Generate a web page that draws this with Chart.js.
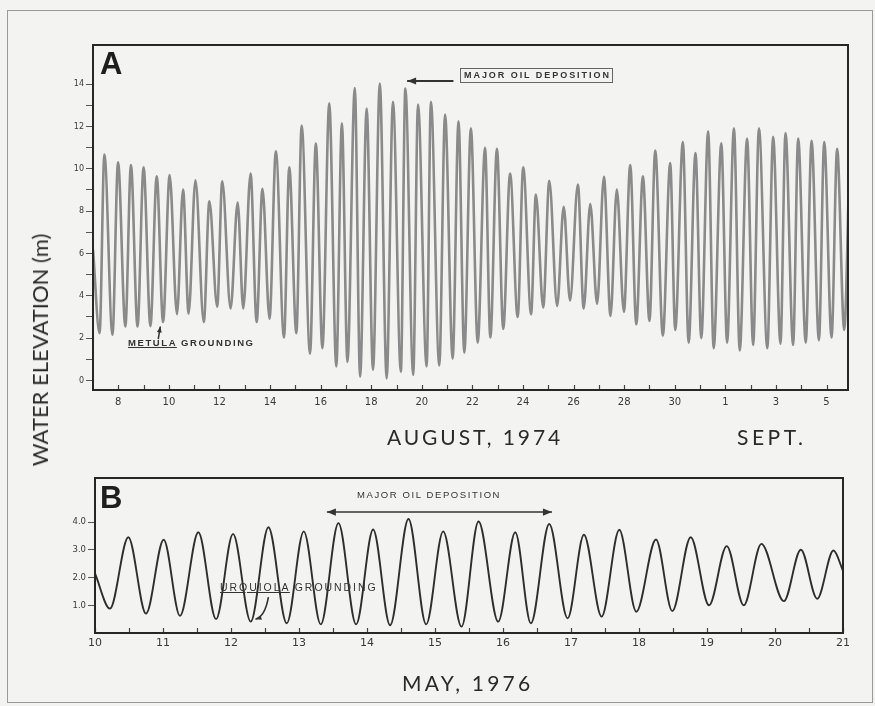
<!DOCTYPE html>
<html><head><meta charset="utf-8">
<script src="https://cdn.jsdelivr.net/npm/chart.js@4.4.0/dist/chart.umd.min.js"></script>
<style>
html,body{margin:0;padding:0;background:#f3f3f1;}
#wrap{position:relative;width:875px;height:706px;overflow:hidden;color:#2a2a2a;font-family:"Lato","DejaVu Sans",sans-serif;}
canvas{position:absolute;left:0;}
.t{position:absolute;white-space:nowrap;line-height:1;}
.big{font-family:"Liberation Sans",Arial,sans-serif;font-weight:bold;font-size:31px;color:#1e1e1e;}
.ttl{font-size:21px;letter-spacing:2.5px;}
.sm{font-family:"Liberation Sans",Arial,sans-serif;color:#333;}
</style></head><body>
<div id="wrap">
  <div style="position:absolute;left:7px;top:10px;width:864px;height:691px;border:1px solid #9a9a9a;"></div>
  <canvas id="cA" width="875" height="460" style="top:0"></canvas>
  <canvas id="cB" width="875" height="246" style="top:460px"></canvas>

  <div class="t big" style="left:100px;top:48px;">A</div>
  <div class="t big" style="left:100px;top:482px;">B</div>

  <div class="t ttl" style="left:40px;top:350px;font-size:22px;letter-spacing:0px;transform:translate(-50%,-50%) rotate(-90deg);">WATER ELEVATION (m)</div>
  <div class="t ttl" style="left:387px;top:426px;letter-spacing:2.9px;">AUGUST, 1974</div>
  <div class="t ttl" style="left:737px;top:426px;letter-spacing:3.5px;">SEPT.</div>
  <div class="t ttl" style="left:402px;top:672px;letter-spacing:3.2px;">MAY, 1976</div>

  <div class="t sm" style="left:460px;top:68px;font-size:9px;font-weight:bold;letter-spacing:1.95px;border:1px solid #666;padding:2px 1px 2px 3px;">MAJOR OIL DEPOSITION</div>
  <div class="t sm" style="left:128px;top:338px;font-size:9.5px;font-weight:bold;letter-spacing:1.6px;"><span style="text-decoration:underline;">METULA</span> GROUNDING</div>
  <div class="t sm" style="left:357px;top:490px;font-size:9.5px;letter-spacing:1.6px;">MAJOR OIL DEPOSITION</div>
  <div class="t sm" style="left:220px;top:582px;font-size:10.5px;letter-spacing:1.95px;"><span style="text-decoration:underline;">URQUIOLA</span> GROUNDING</div>
</div>
<script>
// ---------- Panel A: August 1974 (day of August; 32 = 1 Sept) ----------
const aHighDays = [7.45,7.99,8.50,9.00,9.52,10.03,10.56,11.05,11.60,12.11,12.72,13.23,13.70,14.23,14.76,15.25,15.81,16.34,16.84,17.35,17.82,18.34,18.86,19.35,19.85,20.36,20.92,21.45,21.94,22.50,22.97,23.49,24.01,24.51,25.04,25.61,26.17,26.66,27.20,27.71,28.24,28.74,29.23,29.82,30.32,30.82,31.32,31.84,32.34,32.86,33.33,33.89,34.38,34.88,35.41,35.91,36.42,36.92];
const aHighM = [10.67,10.31,10.18,10.07,9.65,9.70,9.02,9.46,8.46,9.41,8.41,9.78,9.06,10.83,10.07,12.04,11.20,13.09,12.15,13.82,12.85,14.03,13.17,13.79,13.04,13.17,12.56,12.24,11.91,10.99,10.94,9.78,10.07,8.78,9.43,8.20,9.26,8.33,9.62,9.02,10.18,9.65,10.86,10.27,11.27,10.75,11.77,11.20,11.91,11.43,11.91,11.51,11.69,11.43,11.32,11.27,10.94,11.07];
const aLowDays = [7.26,7.77,8.28,8.76,9.27,9.77,10.32,10.78,11.38,11.91,12.44,12.94,13.47,13.98,14.55,15.04,15.58,16.07,16.62,17.06,17.56,18.07,18.61,19.17,19.66,20.19,20.69,21.22,21.68,22.21,22.71,23.22,23.79,24.32,24.80,25.35,25.86,26.40,26.93,27.46,27.99,28.48,29.00,29.53,30.02,30.55,31.05,31.54,32.07,32.57,33.10,33.66,34.18,34.68,35.18,35.70,36.20,36.70];
const aLowM = [2.23,2.16,2.55,2.55,2.57,2.76,3.13,3.16,2.76,3.49,3.40,3.40,2.76,2.92,2.03,2.23,1.26,1.52,0.66,0.87,0.18,0.50,0.10,0.42,0.26,0.66,0.71,1.03,1.31,1.79,2.03,2.44,3.00,3.13,3.45,3.52,3.78,3.40,3.62,3.05,3.24,2.65,2.81,2.12,2.39,1.79,2.00,1.52,1.79,1.42,1.68,1.52,1.74,1.68,1.79,1.90,2.03,2.39];
const aEdgeDays = [7.0];
const aEdgeM = [6.2];
const aTickDays = [8,9,10,11,12,13,14,15,16,17,18,19,20,21,22,23,24,25,26,27,28,29,30,31,32,33,34,35,36];
const aTickLabels = ['8','','10','','12','','14','','16','','18','','20','','22','','24','','26','','28','','30','','1','','3','','5'];
const aLevelTicks = [0,1,2,3,4,5,6,7,8,9,10,11,12,13,14];
const aLevelLabels = ['0','','2','','4','','6','','8','','10','','12','','14'];

// ---------- Panel B: May 1976 ----------
const bHighDays = [10.49,11.01,11.52,12.03,12.55,13.07,13.58,14.09,14.61,15.12,15.64,16.18,16.68,17.19,17.71,18.25,18.76,19.29,19.80,20.38,20.86];
const bHighM = [3.46,3.37,3.64,3.58,3.82,3.67,3.97,3.74,4.12,3.67,4.03,3.64,3.94,3.55,3.73,3.38,3.46,3.14,3.22,3.01,2.98];
const bLowDays = [10.22,10.75,11.25,11.78,12.29,12.82,13.32,13.84,14.34,14.87,15.39,15.93,16.41,16.95,17.45,17.96,18.49,19.03,19.54,20.13,20.62];
const bLowM = [0.88,0.70,0.62,0.50,0.41,0.35,0.31,0.31,0.28,0.31,0.23,0.41,0.35,0.53,0.59,0.77,0.79,1.00,1.00,1.15,1.24];
const bEdgeDays = [10.0, 21.0];
const bEdgeM = [2.15, 2.25];
const bTickDays = [10,10.5,11,11.5,12,12.5,13,13.5,14,14.5,15,15.5,16,16.5,17,17.5,18,18.5,19,19.5,20,20.5,21];
const bTickLabels = ['10','','11','','12','','13','','14','','15','','16','','17','','18','','19','','20','','21'];
const bLevelTicks = [1,2,3,4];
const bLevelLabels = ['1.0','2.0','3.0','4.0'];

function series(groups){
  const pts = [];
  groups.forEach(([d,m]) => d.forEach((x,i) => pts.push({x:x, y:m[i]})));
  return pts.sort((p,q) => p.x - q.x);
}

function drawArrow(ctx, xs, ys, ar){
  const x1 = xs.getPixelForValue(ar.from[0]), y1 = ys.getPixelForValue(ar.from[1]);
  const x2 = xs.getPixelForValue(ar.to[0]), y2 = ys.getPixelForValue(ar.to[1]);
  ctx.strokeStyle = ar.color; ctx.fillStyle = ar.color; ctx.lineWidth = ar.width;
  ctx.beginPath(); ctx.moveTo(x1,y1);
  let cx = x1, cy = y1;
  if (ar.ctrl){ cx = xs.getPixelForValue(ar.ctrl[0]); cy = ys.getPixelForValue(ar.ctrl[1]); ctx.quadraticCurveTo(cx,cy,x2,y2); }
  else { ctx.lineTo(x2,y2); }
  ctx.stroke();
  const head = (tx,ty,fx,fy) => {
    const a = Math.atan2(ty-fy, tx-fx), L = ar.head, W = ar.head*0.4;
    ctx.beginPath(); ctx.moveTo(tx,ty);
    ctx.lineTo(tx - L*Math.cos(a) + W*Math.sin(a), ty - L*Math.sin(a) - W*Math.cos(a));
    ctx.lineTo(tx - L*Math.cos(a) - W*Math.sin(a), ty - L*Math.sin(a) + W*Math.cos(a));
    ctx.closePath(); ctx.fill();
  };
  head(x2,y2,cx,cy);
  if (ar.both) head(x1,y1,x2,y2);
}

const plotBox = {
  id:'plotBox',
  afterDraw(chart, args, o){
    const {ctx, chartArea:a, scales:{x, y}} = chart;
    ctx.save();
    ctx.strokeStyle = o.tickColor; ctx.lineWidth = 1.2;
    x.ticks.forEach(t => { const px = Math.round(x.getPixelForValue(t.value))+0.5;
      ctx.beginPath(); ctx.moveTo(px, a.bottom); ctx.lineTo(px, a.bottom - o.tickLen); ctx.stroke(); });
    ctx.strokeStyle = o.frameColor; ctx.lineWidth = o.frameWidth;
    ctx.strokeRect(a.left, a.top, a.right - a.left, a.bottom - a.top);
    (o.arrows||[]).forEach(ar => drawArrow(ctx, x, y, ar));
    ctx.restore();
  }
};

function makeChart(id, cfg){
  return new Chart(document.getElementById(id), {
    type:'line',
    data:{datasets: cfg.datasets},
    options:{
      responsive:false, animation:false, events:[],
      layout:{padding:cfg.pad},
      elements:{point:{radius:0}},
      plugins:{legend:{display:false}, tooltip:{enabled:false}, plotBox:cfg.box},
      scales:{
        x:{type:'linear', min:cfg.xmin, max:cfg.xmax,
           afterBuildTicks:s => { s.ticks = cfg.xt.map(v => ({value:v})); },
           afterFit:s => { s.height = cfg.xh; },
           grid:{display:false, drawTicks:false}, border:{display:false},
           ticks:{autoSkip:false, maxRotation:0, padding:cfg.xpad, color:'#3a3a3a',
                  font:{family:'"DejaVu Sans", sans-serif', size:cfg.xfs},
                  callback:(v,i) => cfg.xl[i]}},
        y:{type:'linear', min:cfg.ymin, max:cfg.ymax,
           afterBuildTicks:s => { s.ticks = cfg.yt.map(v => ({value:v})); },
           afterFit:s => { s.width = 30; },
           grid:{display:true, drawOnChartArea:false, drawTicks:true, tickLength:7, color:'#555', lineWidth:1},
           border:{display:false},
           ticks:{autoSkip:false, padding:2, color:'#3a3a3a',
                  font:{family:'"DejaVu Sans", sans-serif', size:cfg.yfs},
                  callback:(v,i) => cfg.yl[i]}}
      }
    },
    plugins:[plotBox]
  });
}

const aPts = series([[aHighDays,aHighM],[aLowDays,aLowM],[aEdgeDays,aEdgeM]]);
makeChart('cA', {
  datasets:[
    {data:aPts, borderColor:'#8a8a8a', borderWidth:2.6, cubicInterpolationMode:'monotone', clip:0},
    {data:aPts, borderColor:'#e2e2e0', borderWidth:0.9, cubicInterpolationMode:'monotone', clip:0}
  ],
  pad:{left:63, top:45, right:27, bottom:45},
  xmin:7.0, xmax:36.85, xt:aTickDays, xl:aTickLabels, xh:25, xpad:6, xfs:10,
  ymin:-0.45, ymax:15.85, yt:aLevelTicks, yl:aLevelLabels, yfs:8,
  box:{tickColor:'#444', tickLen:5, frameColor:'#262626', frameWidth:2,
    arrows:[
      {from:[21.25,14.15], to:[19.42,14.15], color:'#333', width:2.2, head:9},
      {from:[9.58,1.95], to:[9.66,2.55], color:'#333', width:1.5, head:6}
    ]}
});

const bPts = series([[bHighDays,bHighM],[bLowDays,bLowM],[bEdgeDays,bEdgeM]]);
makeChart('cB', {
  datasets:[
    {data:bPts, borderColor:'#2e2e2e', borderWidth:1.9, cubicInterpolationMode:'monotone', clip:0}
  ],
  pad:{left:65, top:18, right:32, bottom:53},
  xmin:10, xmax:21, xt:bTickDays, xl:bTickLabels, xh:20, xpad:4, xfs:11,
  ymin:0, ymax:5.6, yt:bLevelTicks, yl:bLevelLabels, yfs:8.5,
  box:{tickColor:'#444', tickLen:5, frameColor:'#262626', frameWidth:2,
    arrows:[
      {from:[13.41,4.37], to:[16.72,4.37], both:true, color:'#333', width:1.5, head:9},
      {from:[12.55,1.3], ctrl:[12.5,0.6], to:[12.36,0.5], color:'#333', width:1.6, head:6}
    ]}
});
</script>
</body></html>
